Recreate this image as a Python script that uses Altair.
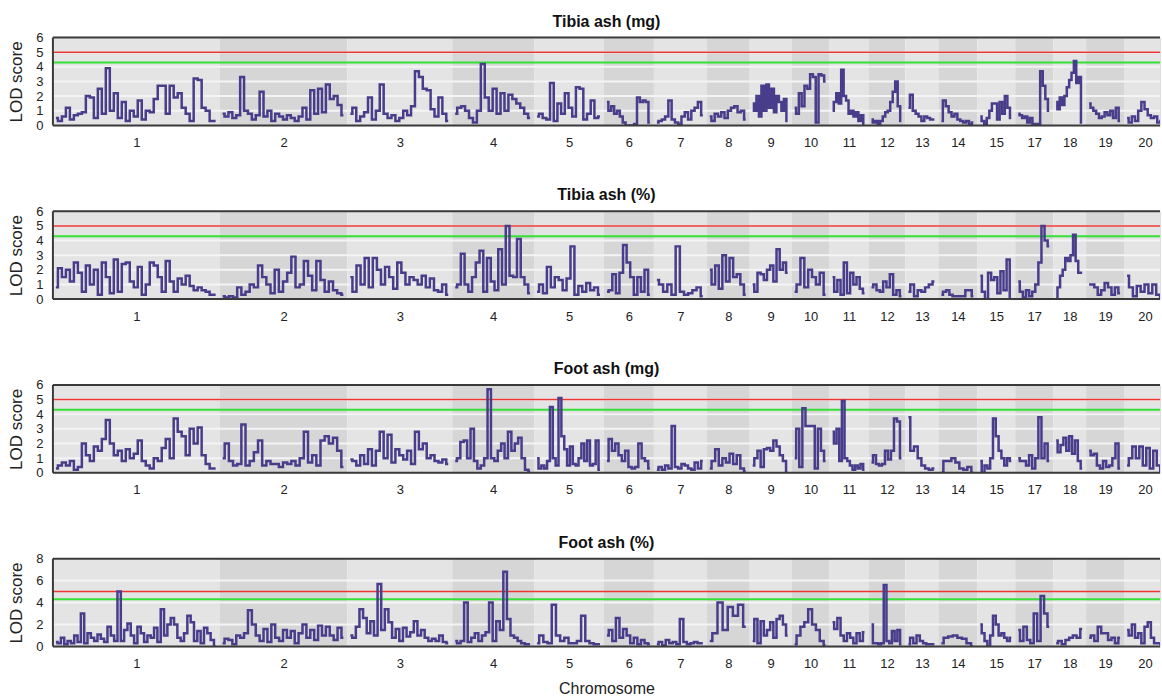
import altair as alt
import pandas as pd

# ---------------- data ----------------
chrom_names = ['1', '2', '3', '4', '5', '6', '7', '8', '9', '10', '11', '12',
               '13', '14', '15', '17', '18', '19', '20']
chrom_len = [167, 128, 105, 82, 70, 50, 53, 43, 42, 38, 39, 37, 33, 39, 38, 38, 33, 38, 42]

panel_titles = ['Tibia ash (mg)', 'Tibia ash (%)', 'Foot ash (mg)', 'Foot ash (%)']
panel_ymax = [6, 6, 6, 8]
panel_yticks = [[0, 1, 2, 3, 4, 5, 6], [0, 1, 2, 3, 4, 5, 6], [0, 1, 2, 3, 4, 5, 6], [0, 2, 4, 6, 8]]
panel_grid = [[1, 2, 3, 4, 5, 6], [1, 2, 3, 4, 5, 6], [1, 2, 3, 4, 5, 6], [2, 4, 6]]
threshold_red = 5.0
threshold_green = 4.3

tibia_mg = [
    [0.5, 0.3, 0.6, 1.2, 0.4, 0.7, 0.8, 0.9, 2.0, 1.9, 0.5, 2.5, 0.8, 3.9, 1.0, 2.2, 0.5, 1.6, 0.3, 1.0, 0.6,
     1.7, 0.4, 1.0, 0.9, 1.8, 2.7, 2.7, 0.8, 2.7, 1.9, 2.2, 1.2, 0.8, 0.3, 3.2, 3.1, 1.2, 1.0, 0.3, 0.3],
    [0.8, 0.6, 0.9, 0.5, 0.7, 3.3, 1.0, 0.8, 0.4, 0.7, 2.3, 0.6, 1.0, 0.3, 0.8, 0.6, 0.4, 0.7, 0.5, 0.3, 0.6,
     1.2, 0.4, 2.4, 0.8, 2.5, 0.9, 2.8, 1.8, 2.0, 1.4, 0.7],
    [0.8, 1.2, 0.3, 0.6, 0.9, 1.9, 0.4, 1.0, 2.8, 0.8, 0.5, 0.7, 0.3, 0.5, 1.0, 0.7, 1.3, 3.7, 3.3, 2.5, 2.4,
     1.1, 0.6, 1.9, 0.8, 0.3],
    [0.8, 1.2, 1.3, 1.0, 0.5, 0.2, 1.0, 4.2, 1.9, 1.0, 2.5, 0.8, 2.2, 1.0, 2.1, 1.8, 1.5, 1.2, 0.8, 0.5],
    [0.6, 0.8, 0.5, 0.4, 2.9, 0.3, 1.5, 0.8, 2.2, 1.2, 0.6, 2.6, 2.5, 0.4, 0.8, 1.7, 0.5, 0.6],
    [1.6, 1.0, 1.3, 0.8, 1.0, 0.6, 0.2, 0.0, 0.0, 0.0, 0.1, 1.9, 1.6, 1.7, 1.6, 0.2],
    [0.2, 0.3, 0.4, 0.6, 1.7, 0.4, 0.2, 0.1, 0.6, 0.9, 0.4, 1.0, 1.2, 1.6, 0.7],
    [0.6, 0.3, 0.8, 0.6, 0.9, 0.5, 1.0, 1.2, 1.3, 0.9, 1.0, 0.4],
    [1.5, 1.0, 2.0, 0.6, 2.7, 1.0, 2.8, 1.2, 2.5, 0.9, 2.0, 1.6, 1.0, 1.8, 0.3],
    [1.2, 0.8, 2.2, 1.3, 2.7, 2.5, 3.5, 3.3, 0.2, 3.5, 3.4, 3.0],
    [1.0, 1.6, 2.2, 1.5, 3.8, 2.0, 1.7, 0.8, 1.0, 0.6, 0.9, 0.3, 0.7, 0.0],
    [0.4, 0.2, 0.3, 0.1, 0.3, 0.6, 0.9, 1.0, 1.6, 2.3, 3.0, 1.3, 0.3],
    [1.2, 2.1, 1.0, 0.8, 0.6, 0.3, 0.6, 0.5, 0.4, 0.4],
    [0.3, 1.7, 1.3, 0.9, 0.6, 0.8, 0.4, 0.3, 0.2, 0.3, 0.1, 0.2],
    [0.6, 0.3, 0.1, 0.5, 1.0, 1.5, 1.5, 0.4, 1.6, 0.8, 2.0, 1.2, 0.5],
    [0.8, 0.7, 0.5, 0.6, 0.2, 0.5, 0.1, 0.0, 0.1, 3.7, 2.7, 1.8, 1.0],
    [1.6, 1.1, 1.9, 1.4, 2.0, 2.6, 3.1, 3.6, 4.4, 2.9, 3.3, 0.2],
    [1.5, 1.2, 1.0, 0.8, 0.5, 0.6, 0.9, 0.7, 1.0, 0.5, 1.2, 0.3],
    [0.5, 0.2, 0.6, 0.3, 1.0, 1.6, 1.1, 0.7, 0.5, 0.6, 0.2, 0.3],
]

tibia_pct = [
    [0.8, 2.1, 1.5, 2.0, 1.2, 2.5, 1.8, 0.5, 2.3, 1.0, 2.0, 0.3, 2.5, 1.5, 0.4, 2.7, 0.5, 2.4, 2.5, 1.2, 0.8,
     2.2, 0.3, 1.0, 2.5, 2.3, 1.5, 0.5, 2.6, 1.2, 0.5, 1.4, 1.0, 1.6, 0.9, 0.6, 0.8, 0.6, 0.5, 0.3, 0.3],
    [0.2, 0.1, 0.2, 0.1, 0.8, 0.3, 0.5, 1.0, 0.8, 2.3, 1.5, 1.0, 0.4, 2.0, 0.5, 1.2, 1.8, 2.9, 0.8, 1.0, 2.6,
     1.6, 0.6, 2.6, 1.3, 0.5, 1.2, 0.6, 0.4, 0.3],
    [1.5, 0.5, 2.3, 1.0, 2.8, 0.8, 2.8, 2.0, 1.0, 2.2, 1.5, 0.7, 2.5, 1.8, 1.0, 1.5, 1.3, 1.0, 1.6, 0.8, 1.4,
     0.6, 0.5, 1.0, 0.3],
    [0.8, 1.0, 3.1, 1.0, 0.5, 1.5, 2.5, 3.3, 0.5, 2.8, 1.2, 0.6, 3.4, 1.0, 5.0, 1.6, 1.5, 4.1, 1.5, 1.0, 0.4],
    [0.5, 1.0, 0.4, 2.2, 0.8, 1.5, 1.3, 0.6, 1.4, 3.6, 0.3, 0.9, 0.5, 1.1, 0.6, 0.8, 0.3],
    [0.5, 0.6, 1.7, 0.4, 1.8, 3.7, 2.5, 1.5, 0.3, 1.5, 0.5, 2.0, 0.3],
    [1.3, 1.0, 0.5, 1.0, 0.3, 3.6, 0.5, 0.3, 0.4, 0.6, 0.8, 0.2],
    [2.0, 1.0, 2.3, 0.7, 3.0, 1.2, 2.8, 1.5, 1.7, 1.0, 0.3],
    [1.0, 0.5, 1.8, 1.7, 1.3, 2.0, 2.3, 1.2, 3.4, 2.0, 2.5, 1.8],
    [0.5, 1.0, 2.8, 0.8, 2.0, 1.5, 1.0, 1.8, 0.3],
    [1.5, 0.5, 1.3, 0.3, 2.5, 0.4, 1.8, 1.0, 1.5, 0.7, 0.4],
    [0.8, 1.0, 0.6, 0.5, 1.2, 0.8, 1.7, 0.3, 0.6, 0.2],
    [0.5, 1.0, 0.2, 0.6, 0.5, 0.8, 1.0, 1.2],
    [0.3, 0.5, 0.6, 0.3, 0.2, 0.2, 0.2, 0.2, 0.6, 0.6, 0.2],
    [1.6, 0.5, 0.0, 1.8, 1.3, 1.5, 0.4, 1.9, 0.6, 2.7, 0.0],
    [1.2, 0.5, 0.1, 0.6, 0.2, 0.5, 1.0, 2.5, 5.0, 4.0, 3.6],
    [0.0, 0.8, 1.6, 2.0, 2.8, 2.6, 3.0, 4.4, 2.6, 1.8, 1.8],
    [1.0, 1.0, 0.8, 0.3, 0.6, 1.1, 0.8, 0.3, 0.8, 0.4],
    [1.6, 0.8, 0.2, 0.9, 0.5, 1.0, 0.4, 1.0, 0.3, 0.0],
]

foot_mg = [
    [0.3, 0.5, 0.7, 0.5, 0.8, 0.2, 0.4, 2.0, 1.2, 0.8, 1.8, 1.5, 2.3, 3.6, 2.0, 1.2, 1.5, 0.8, 1.6, 1.0, 1.3,
     2.2, 0.8, 0.5, 0.3, 1.0, 0.8, 1.7, 2.3, 1.0, 3.7, 2.8, 2.5, 1.2, 3.0, 2.0, 3.1, 1.2, 0.6, 0.3, 0.3],
    [1.0, 2.0, 0.8, 0.5, 0.6, 3.3, 0.5, 0.8, 1.4, 2.2, 0.5, 0.8, 0.6, 0.6, 0.4, 0.7, 0.6, 0.8, 0.5, 1.0, 2.8,
     0.7, 1.2, 0.5, 2.2, 2.5, 2.0, 2.4, 1.5, 0.4],
    [0.9, 0.8, 0.5, 1.2, 0.6, 1.6, 0.5, 1.5, 2.8, 1.0, 2.6, 0.7, 1.6, 1.2, 0.9, 1.5, 0.6, 2.8, 1.6, 2.0, 1.0,
     1.2, 0.8, 0.7, 0.9, 0.6],
    [0.8, 1.0, 2.1, 2.2, 1.0, 3.0, 0.8, 0.3, 0.5, 1.0, 5.7, 1.0, 0.8, 1.5, 2.0, 1.0, 2.8, 1.5, 2.0, 2.4, 1.0,
     0.2, 0.1],
    [1.0, 0.3, 0.5, 0.3, 0.8, 4.5, 1.0, 0.5, 5.1, 2.5, 1.6, 0.5, 1.8, 0.6, 0.5, 1.0, 2.0, 0.8, 2.2, 0.5, 0.6,
     2.2, 0.2],
    [0.8, 2.3, 1.5, 2.0, 1.2, 0.8, 1.5, 0.4, 0.3, 0.4, 2.0, 1.0, 0.8, 0.3],
    [0.2, 0.4, 0.2, 0.5, 0.3, 3.2, 0.4, 0.3, 0.6, 0.5, 0.3, 0.2, 0.7, 0.3, 0.8],
    [0.3, 0.8, 1.6, 0.5, 1.0, 0.7, 1.3, 0.6, 1.2, 0.3, 0.1],
    [0.5, 1.0, 1.5, 0.4, 1.6, 1.7, 1.5, 2.2, 1.8, 1.2, 0.8, 0.0],
    [1.0, 3.0, 0.4, 4.4, 3.2, 3.2, 3.2, 0.3, 3.0, 1.5, 0.8],
    [2.8, 2.0, 3.0, 0.8, 4.9, 1.0, 0.8, 0.5, 0.2, 0.5, 0.3, 0.6, 0.2],
    [0.7, 1.2, 0.6, 0.5, 0.6, 1.5, 0.9, 1.5, 3.7, 3.5, 1.0],
    [3.8, 1.5, 1.8, 1.0, 0.5, 0.3, 0.2, 0.3],
    [0.0, 0.8, 0.8, 1.0, 0.7, 0.3, 0.2, 0.4, 0.0],
    [0.8, 0.0, 0.5, 0.3, 1.0, 3.7, 2.5, 1.5, 1.0, 0.5, 1.0, 0.8],
    [1.0, 0.8, 0.8, 0.5, 1.2, 0.3, 1.0, 3.8, 1.0, 2.0, 0.8],
    [2.2, 1.4, 1.9, 2.4, 1.5, 2.5, 1.3, 2.2, 0.8, 0.3],
    [1.5, 1.2, 1.3, 0.5, 0.3, 0.8, 0.4, 0.5, 1.0, 2.0, 0.3],
    [0.5, 1.0, 1.8, 1.0, 1.8, 0.5, 1.7, 0.3, 1.5, 0.5, 0.1],
]

foot_pct = [
    [0.4, 0.3, 0.8, 0.2, 0.5, 0.3, 1.0, 0.4, 3.0, 0.3, 1.2, 0.8, 0.5, 1.1, 0.7, 0.4, 1.8, 1.0, 0.5, 5.0, 0.5,
     1.5, 2.1, 1.0, 0.3, 1.8, 1.2, 0.4, 1.0, 0.8, 1.7, 0.4, 3.4, 1.0, 2.0, 2.6, 2.0, 0.8, 0.5, 1.2, 2.8, 2.2,
     0.5, 1.4, 0.3, 1.7, 1.2, 0.6, 0.0],
    [0.3, 0.7, 0.6, 0.2, 1.0, 0.8, 1.2, 3.3, 2.0, 1.0, 0.5, 1.6, 0.4, 2.0, 0.8, 0.5, 1.5, 0.8, 1.4, 0.3, 1.2,
     2.0, 0.8, 1.5, 0.6, 1.9, 1.0, 1.8, 1.0, 0.6, 1.7, 0.8],
    [1.0, 0.8, 1.8, 3.4, 2.6, 1.2, 2.3, 1.0, 5.7, 1.5, 3.4, 2.2, 0.8, 1.6, 0.5, 1.7, 0.9, 1.3, 2.3, 1.0, 1.5,
     0.8, 0.5, 0.7, 0.5, 1.0, 0.4, 0.3],
    [0.5, 0.3, 0.5, 4.0, 0.4, 0.8, 1.2, 0.5, 1.0, 1.3, 4.0, 0.5, 2.3, 1.5, 6.8, 2.5, 1.0, 0.8, 0.5, 0.3, 0.2,
     0.2],
    [0.3, 1.0, 0.4, 0.3, 3.8, 1.0, 0.5, 0.8, 0.3, 0.3, 0.5, 2.8, 0.5, 0.3, 0.2, 0.2],
    [1.0, 1.5, 0.5, 2.6, 0.8, 1.6, 1.0, 0.3, 0.8, 0.2, 0.6, 0.3, 0.2],
    [0.2, 0.4, 0.1, 0.6, 0.3, 0.4, 0.2, 2.5, 0.4, 0.2, 0.3, 0.4, 0.3, 0.3],
    [0.5, 1.2, 4.0, 1.5, 3.6, 2.8, 3.8, 1.8],
    [0.5, 2.5, 0.3, 2.3, 1.0, 1.5, 2.2, 0.8, 2.5, 2.8, 2.0, 1.0],
    [0.2, 1.0, 1.8, 2.2, 3.4, 2.0, 1.5, 0.5, 0.1],
    [2.2, 1.6, 2.6, 1.0, 0.5, 1.2, 0.8, 0.3, 1.2, 0.5, 1.3],
    [2.0, 0.3, 0.3, 0.2, 0.3, 5.6, 0.5, 0.3, 1.4, 0.5, 1.5, 0.2],
    [0.2, 0.8, 0.3, 1.0, 0.5, 0.3, 0.2, 0.2, 0.2],
    [0.3, 0.8, 0.9, 1.0, 0.8, 0.7, 0.3, 0.0],
    [2.0, 1.2, 0.5, 0.0, 1.0, 2.8, 2.0, 1.0, 1.2, 0.8, 0.5, 0.8],
    [1.5, 0.5, 1.8, 0.6, 0.3, 3.0, 0.5, 4.6, 3.0, 1.8],
    [0.3, 0.5, 0.2, 0.6, 0.8, 1.0, 0.8, 1.6],
    [0.8, 1.0, 0.5, 1.8, 1.2, 1.2, 0.6, 0.8, 0.3, 0.8],
    [1.5, 1.0, 2.0, 0.8, 1.2, 0.3, 1.8, 2.2, 0.8, 0.3, 0.3, 0.2],
]

panel_data = [tibia_mg, tibia_pct, foot_mg, foot_pct]

# ---------------- layout / style ----------------
W = 1109
H = 88
X_MAX = 1109
LINE_COLOR = '#483d8b'
BAND_LIGHT = '#e4e4e4'
BAND_DARK = '#d6d6d6'
FONT = 'Liberation Sans'

starts = []
acc = 0
for L in chrom_len:
    starts.append(acc)
    acc += L
ends = [s + L for s, L in zip(starts, chrom_len)]
centers = [s + L / 2 for s, L in zip(starts, chrom_len)]

bands = pd.DataFrame({
    'chrom': chrom_names,
    'start': starts,
    'end': ends,
    'fill': [BAND_LIGHT if i % 2 == 0 else BAND_DARK for i in range(len(chrom_names))],
})

label_expr = "[" + ",".join("'%s'" % c for c in chrom_names) + "][indexof([" + \
    ",".join(repr(float(c)) for c in centers) + "], datum.value)]"


def curve_frame(values_per_chrom):
    rows = []
    for ci, vals in enumerate(values_per_chrom):
        s = starts[ci] + 3
        e = ends[ci] - 4
        n = len(vals)
        for i, v in enumerate(vals):
            rows.append({'chrom': chrom_names[ci], 'pos': s + (e - s) * i / (n - 1), 'lod': v})
    return pd.DataFrame(rows)


def make_panel(k, last):
    ymax = panel_ymax[k]
    xscale = alt.Scale(domain=[0, X_MAX], nice=False, zero=False)
    yscale = alt.Scale(domain=[0, ymax], nice=False)
    xaxis = alt.Axis(values=[float(c) for c in centers], labelExpr=label_expr, ticks=False,
                     tickSize=0, domain=False, grid=False, labelPadding=11, labelFontSize=13,
                     labelColor='#222222', labelFont=FONT, labelAngle=0, labelFlush=False,
                     labelOverlap=False,
                     title='Chromosome' if last else None, titleFontSize=16,
                     titleFontWeight='normal', titleColor='#222222', titleFont=FONT,
                     titlePadding=10)
    yaxis = alt.Axis(values=panel_yticks[k], ticks=False, tickSize=0, domain=False, grid=False,
                     labelPadding=10, labelFontSize=13, labelColor='#222222', labelFont=FONT,
                     title='LOD score', titleFontSize=17, titleFontWeight='normal',
                     titleColor='#222222', titleFont=FONT, titlePadding=10,
                     labelFlush=False, labelOverlap=False)

    x = lambda f: alt.X(f, type='quantitative', scale=xscale, axis=xaxis)
    y = lambda f: alt.Y(f, type='quantitative', scale=yscale, axis=yaxis)

    band_layer = alt.Chart(bands).mark_rect(clip=True).encode(
        x=x('start'), x2='end', y=alt.value(0), y2=alt.value(H),
        color=alt.Color('fill:N', scale=None))

    grid_layer = alt.Chart(pd.DataFrame({'v': panel_grid[k]})).mark_rule(
        color='#f4f4f4', strokeWidth=2).encode(y=y('v'))

    thr = pd.DataFrame({'v': [threshold_red, threshold_green],
                        'c': ['#ee3535', '#35e035'],
                        'w': [1.5, 2.0]})
    thr_layer = alt.Chart(thr).mark_rule().encode(
        y=y('v'), color=alt.Color('c:N', scale=None),
        strokeWidth=alt.StrokeWidth('w:Q', scale=None))

    line_layer = alt.Chart(curve_frame(panel_data[k])).mark_line(
        color=LINE_COLOR, strokeWidth=2.5, clip=True, interpolate='step',
        strokeJoin='miter').encode(
        x=x('pos'), y=y('lod'), detail='chrom:N')

    border_h = alt.Chart(pd.DataFrame({'b': [0, ymax]})).mark_rule(
        color='#3a3a3a', strokeWidth=2).encode(y=y('b'))
    border_v = alt.Chart(pd.DataFrame({'b': [0]})).mark_rule(
        color='#3a3a3a', strokeWidth=2).encode(x=x('b'), y=alt.value(0), y2=alt.value(H))

    return alt.layer(band_layer, grid_layer, thr_layer, line_layer, border_h, border_v).properties(
        width=W, height=H,
        title=alt.TitleParams(panel_titles[k], fontSize=16, fontWeight='bold', font=FONT,
                              color='#111111', anchor='middle', offset=2))


panels = [make_panel(k, k == 3) for k in range(4)]

chart = alt.vconcat(*panels, spacing=36).properties(
    padding={'left': 7, 'top': 12, 'right': 0, 'bottom': 0}
).configure_view(stroke=None).configure(background='white')

chart.save("out.html", embed_options={"renderer": "svg", "actions": False})
